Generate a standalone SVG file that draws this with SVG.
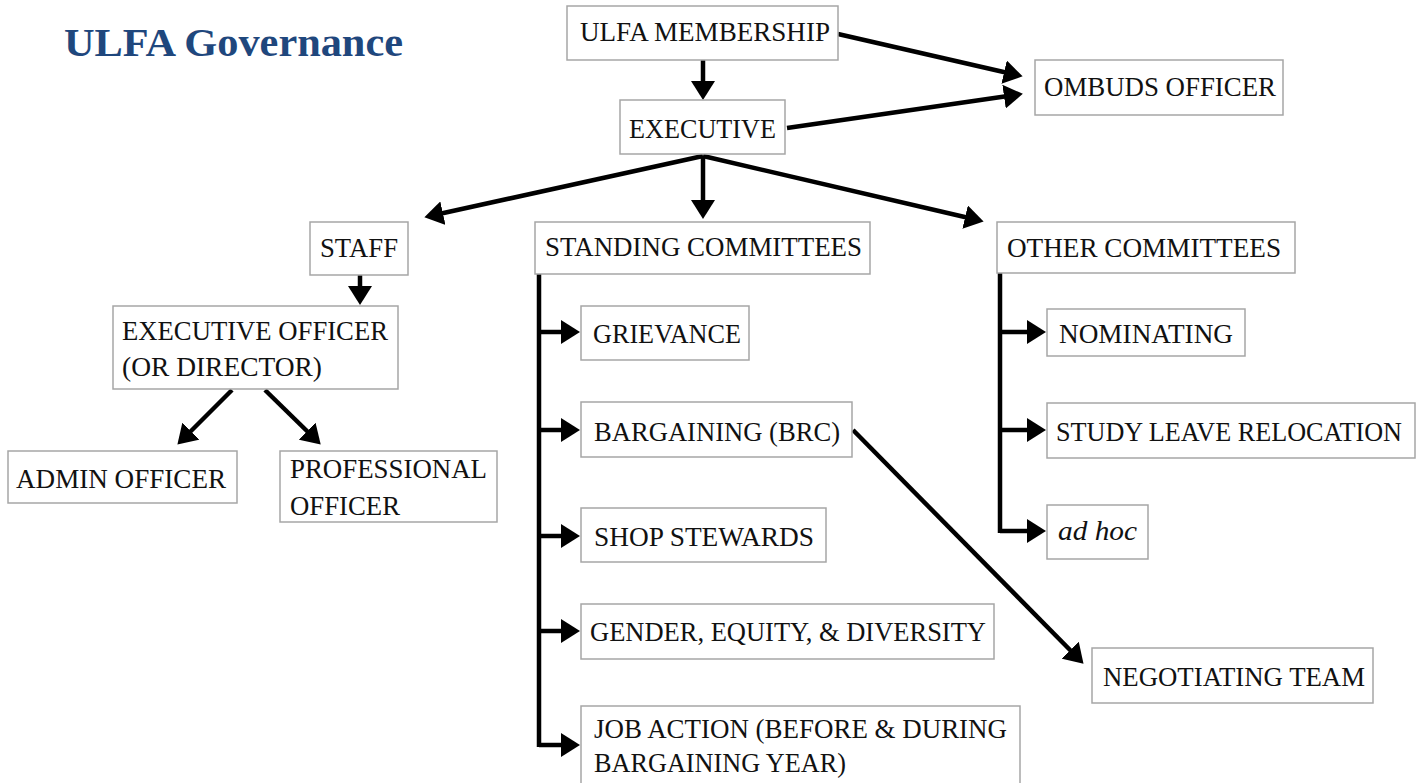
<svg xmlns="http://www.w3.org/2000/svg" width="1418" height="783" viewBox="0 0 1418 783">
<style>
.box{fill:#fff;stroke:#a6a6a6;stroke-width:1.5}
.t{font-family:"Liberation Serif","DejaVu Serif",serif;font-size:28px;fill:#111}
.title{font-family:"Liberation Serif","DejaVu Serif",serif;font-size:40px;font-weight:bold;fill:#1f477d}
.c{fill:none;stroke:#000;stroke-width:4.5}
</style>
<defs>
<marker id="ah" markerUnits="userSpaceOnUse" markerWidth="20" markerHeight="24" refX="4" refY="12" orient="auto">
<path d="M0,0 L19,12 L0,24 z" fill="#000"/>
</marker>
</defs>
<rect width="1418" height="783" fill="#fff"/>
<text class="title" x="64" y="56" textLength="339" lengthAdjust="spacingAndGlyphs">ULFA Governance</text>

<g id="connectors">
<path class="c" d="M703,60 L703,85" marker-end="url(#ah)"/>
<path class="c" d="M838,34 L1008,73" marker-end="url(#ah)"/>
<path class="c" d="M787,128 L1008,96" marker-end="url(#ah)"/>
<path class="c" d="M703,156 L439,214" marker-end="url(#ah)"/>
<path class="c" d="M703,156 L703,204" marker-end="url(#ah)"/>
<path class="c" d="M703,156 L969,218" marker-end="url(#ah)"/>
<path class="c" d="M360,275 L360,290" marker-end="url(#ah)"/>
<path class="c" d="M232,390 L188,434" marker-end="url(#ah)"/>
<path class="c" d="M265,390 L310,434" marker-end="url(#ah)"/>
<path class="c" d="M539,274 L539,747"/>
<path class="c" d="M537,332 L565,332" marker-end="url(#ah)"/>
<path class="c" d="M537,430 L565,430" marker-end="url(#ah)"/>
<path class="c" d="M537,536 L565,536" marker-end="url(#ah)"/>
<path class="c" d="M537,631 L565,631" marker-end="url(#ah)"/>
<path class="c" d="M539,745 L565,745" marker-end="url(#ah)"/>
<path class="c" d="M853,430 L1073,653" marker-end="url(#ah)"/>
<path class="c" d="M1000,273 L1000,533"/>
<path class="c" d="M998,332 L1031,332" marker-end="url(#ah)"/>
<path class="c" d="M998,430 L1031,430" marker-end="url(#ah)"/>
<path class="c" d="M1000,531 L1031,531" marker-end="url(#ah)"/>
</g>

<g id="membership"><rect class="box" x="567" y="6" width="271" height="54"/><text class="t" x="580" y="41" textLength="250" lengthAdjust="spacingAndGlyphs">ULFA MEMBERSHIP</text></g>
<g id="executive"><rect class="box" x="620" y="100" width="165" height="54"/><text class="t" x="629" y="138" textLength="147" lengthAdjust="spacingAndGlyphs">EXECUTIVE</text></g>
<g id="ombuds"><rect class="box" x="1035" y="60" width="248" height="55"/><text class="t" x="1044" y="96" textLength="232" lengthAdjust="spacingAndGlyphs">OMBUDS OFFICER</text></g>
<g id="staff"><rect class="box" x="310" y="222" width="98" height="53"/><text class="t" x="320" y="257" textLength="78" lengthAdjust="spacingAndGlyphs">STAFF</text></g>
<g id="exec-officer"><rect class="box" x="113" y="306" width="285" height="83"/><text class="t" x="122" y="340" textLength="266" lengthAdjust="spacingAndGlyphs">EXECUTIVE OFFICER</text><text class="t" x="122" y="376" textLength="200" lengthAdjust="spacingAndGlyphs">(OR DIRECTOR)</text></g>
<g id="admin-officer"><rect class="box" x="8" y="451" width="229" height="52"/><text class="t" x="16" y="488" textLength="210" lengthAdjust="spacingAndGlyphs">ADMIN OFFICER</text></g>
<g id="professional-officer"><rect class="box" x="280" y="451" width="217" height="71"/><text class="t" x="290" y="478" textLength="197" lengthAdjust="spacingAndGlyphs">PROFESSIONAL</text><text class="t" x="290" y="515" textLength="110" lengthAdjust="spacingAndGlyphs">OFFICER</text></g>
<g id="standing"><rect class="box" x="535" y="222" width="335" height="52"/><text class="t" x="545" y="256" textLength="317" lengthAdjust="spacingAndGlyphs">STANDING COMMITTEES</text></g>
<g id="grievance"><rect class="box" x="581" y="306" width="168" height="54"/><text class="t" x="593" y="343" textLength="148" lengthAdjust="spacingAndGlyphs">GRIEVANCE</text></g>
<g id="bargaining"><rect class="box" x="581" y="402" width="271" height="55"/><text class="t" x="594" y="441" textLength="246" lengthAdjust="spacingAndGlyphs">BARGAINING (BRC)</text></g>
<g id="shop-stewards"><rect class="box" x="581" y="508" width="245" height="54"/><text class="t" x="594" y="546" textLength="220" lengthAdjust="spacingAndGlyphs">SHOP STEWARDS</text></g>
<g id="gender"><rect class="box" x="581" y="604" width="413" height="55"/><text class="t" x="590" y="641" textLength="396" lengthAdjust="spacingAndGlyphs">GENDER, EQUITY, &amp; DIVERSITY</text></g>
<g id="job-action"><rect class="box" x="581" y="706" width="439" height="80"/><text class="t" x="594" y="738" textLength="413" lengthAdjust="spacingAndGlyphs">JOB ACTION (BEFORE &amp; DURING</text><text class="t" x="594" y="772" textLength="252" lengthAdjust="spacingAndGlyphs">BARGAINING YEAR)</text></g>
<g id="negotiating"><rect class="box" x="1092" y="648" width="281" height="55"/><text class="t" x="1103" y="686" textLength="262" lengthAdjust="spacingAndGlyphs">NEGOTIATING TEAM</text></g>
<g id="other"><rect class="box" x="997" y="222" width="298" height="51"/><text class="t" x="1007" y="257" textLength="274" lengthAdjust="spacingAndGlyphs">OTHER COMMITTEES</text></g>
<g id="nominating"><rect class="box" x="1047" y="309" width="198" height="47"/><text class="t" x="1059" y="343" textLength="174" lengthAdjust="spacingAndGlyphs">NOMINATING</text></g>
<g id="study-leave"><rect class="box" x="1047" y="403" width="368" height="55"/><text class="t" x="1056" y="441" font-size="26" textLength="346" lengthAdjust="spacingAndGlyphs">STUDY LEAVE RELOCATION</text></g>
<g id="ad-hoc"><rect class="box" x="1047" y="505" width="101" height="54"/><text class="t" x="1058" y="540" font-style="italic" textLength="79" lengthAdjust="spacingAndGlyphs">ad hoc</text></g>
</svg>
